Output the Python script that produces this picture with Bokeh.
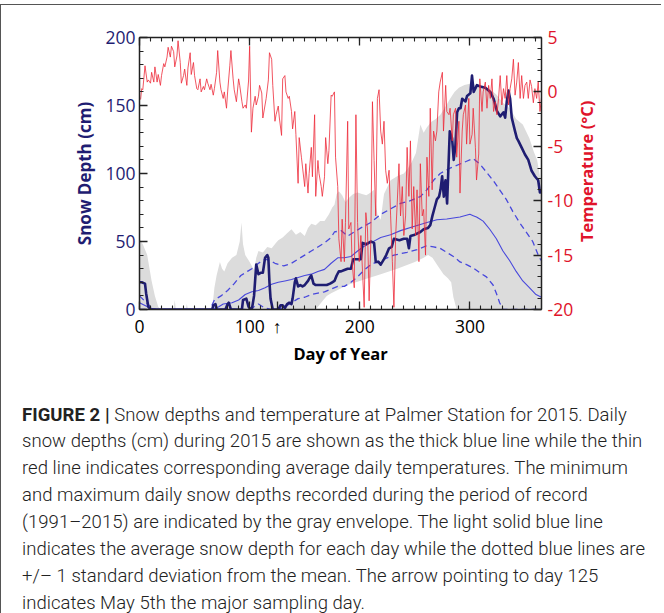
from math import pi
from bokeh.plotting import figure
from bokeh.models import (Range1d, LinearAxis, SingleIntervalTicker, FixedTicker, Div,
                          CustomJSTickFormatter)
from bokeh.layouts import column
from bokeh.embed import file_html
from bokeh.resources import INLINE

# ---------------- data ----------------
temp_day = [1, 2, 3, 5, 7, 8, 10, 11, 13, 14, 16, 17, 19, 20, 22, 23, 25, 26, 28, 29, 31, 32, 34, 35,
            37, 38, 40, 41, 43, 44, 46, 47, 49, 50, 52, 53, 55, 56, 58, 59, 61, 62, 64, 65, 67, 68, 70,
            71, 73, 74, 76, 77, 79, 80, 82, 83, 85, 86, 88, 90, 91, 93,
            94, 96, 97, 99, 100, 101.6, 103, 105, 106, 108, 109, 111, 112, 114, 115, 117, 118, 120,
            121, 123, 124, 126, 127, 129, 130, 132, 133, 135, 136, 138, 139, 141, 142, 144, 145, 147,
            148, 150, 151, 153, 154, 156, 157, 159, 160, 162, 163, 165, 166, 168, 169, 171, 172, 174,
            175, 177, 178, 180, 181, 183, 184,
            186, 187, 189, 190, 192, 193, 195, 196.5, 198, 199.5, 201, 202.5, 204, 205.5, 207, 208.5,
            210, 211.5, 213, 214.5, 216, 217.5, 219, 220.5, 222, 223.5, 225, 226.6, 228, 229.6, 231,
            232.6, 234, 235.6, 237, 238.6, 240, 241.6, 243, 244.6, 246, 247.6, 249, 250.7, 252, 253.7,
            255, 256.7, 258, 259.7, 261, 262.7, 264, 265.7, 267, 268.7, 270, 271.7, 273,
            275, 276, 278, 279, 281, 282, 284, 285, 287, 288, 290, 291, 293, 294, 296, 297, 299, 300,
            302, 303, 305, 306, 308, 309, 311, 312, 314, 315.5, 317, 318.5, 320, 321.5, 323, 324.5,
            326, 327.5, 329, 330.5, 332, 333.5, 335, 336.5, 338, 339.5, 341, 342.5, 344, 345.6, 347,
            348.6, 350, 351.6, 353, 354.6, 356, 357.6, 359, 360.6, 362, 363.6, 365]
temp_val = [-0.7, 0.3, 0.2, 2.4, 0.9, 1.1, 0.8, 1.8, 0.9, 2.3, 0.9, 1.6, 0.6, 1.5, 2.6, 2.3, 3.2, 4.1,
            3.2, 4.2, 3.7, 2.3, 3.3, 4.7, 2.7, 0.8, 1.5, 2.1, 0.6, 2.2, 3.6, 1.6, 2.7, 1.5, 0.3, 0.2,
            1.2, 0.0, 0.5, 0.2, 1.2, 0.8, 0.2, 0.7, -0.3, 0.3, 1.8, 3.8, 0.9, 0.2, -0.6, 0.0, -1.5,
            0.0, 2.4, 3.8, 1.2, 0.2, -0.9, 1.2, 0.6, -0.9,
            -1.5, -1.2, -1.5, 1.0, 4.2, -3.7, -1.5, -0.4, -1.2, -0.4, 0.6, -0.1, -2.4, -1.2, -0.6,
            1.1, 3.6, 3.0, 0.6, -2.7, -2.1, -1.3, -2.4, -4.0, 1.2, 1.5, 0.0, -0.6, -0.4, -1.8, -3.4,
            -1.8, -3.9, -8.4, -4.2, -6.0, -6.9, -8.7, -6.6, -9.3, -7.5, -5.1, -7.8, -2.1, -9.6, -6.3,
            -7.5, -8.7, -9.6, -7.8, -4.2, -6.6, -5.4, -0.3, -0.4, 0.0, -6.0, -8.7, -13.5, -15.6, -11.7,
            -15.6, -12.0, -2.7, -12.6, -12.0, -15.6, -18.0, -2.1, -12.0, -15.6, -13.2, -16.5, -19.8,
            -11.1, -12.6, -19.2, -13.8, -0.9, -6.3, -11.4, -0.6, 0.2, -3.6, -4.8, -2.7, -7.2, -8.4,
            -7.2, -11.4, -15.6, -19.8, -13.2, -10.2, -6.6, -11.4, -8.7, -13.2, -11.4, -5.1, -9.6,
            -4.5, -12.6, -8.7, -13.2, -9.0, -15.6, -6.6, -11.4, -10.8, -15.0, -6.0, -9.6, -1.5, -9.0,
            -3.6, -4.5, -3.6, 0.0, 0.9,
            1.8, -3.6, 0.6, -1.8, -2.1, -1.5, -4.5, -2.1, -1.5, -6.0, -2.7, -9.3, -3.6, -2.1, -1.2,
            -4.8, -0.6, -4.8, -3.9, -1.5, -5.1, -8.1, -5.7, 1.2, -1.8, 0.0, 0.9, -1.5, 0.6, -0.6, 1.2,
            -1.8, -0.9, -2.1, -0.6, 1.5, -1.2, 0.3, -0.6, 1.5, -1.2, 0.3, 1.2, 3.0, -0.3, 0.9, 2.7,
            -0.6, 1.5, -0.6, 0.6, 0.9, -0.6, 1.1, 0.5, -1.0, 0.3, -0.6, 0.9, -1.8, -0.5]

snow_day = [0, 2, 5, 6, 8, 10, 66, 67, 69, 70, 78, 80, 81, 83, 93, 94, 97, 99, 101, 102, 104, 106,
            108, 110, 112, 114, 116, 117, 118, 119, 121, 126, 128, 130, 132, 134, 136, 138, 139, 141,
            142, 144, 146, 148, 150, 153, 155, 156, 158, 160, 165, 170, 173, 175, 177, 179, 181, 183,
            186, 189, 192, 194, 196, 199, 201, 202.5, 206, 210, 213, 214.5, 217, 219, 222, 224, 226.6,
            229, 231, 236, 240, 243, 244.6, 246, 250, 255, 258, 262, 264, 266, 268, 270, 272, 273.3,
            274.8, 276.3, 277.8, 279.3, 281.7, 283.8, 285.3, 286.8, 288.4, 290, 291.5, 293, 296,
            297.4, 300.4, 301.9, 303.4, 306.4, 309.4, 314, 318.5, 321.5, 324.5, 327.5, 330.5, 332,
            333.5, 335, 336.5, 338, 341, 342.6, 344, 347, 350, 353, 356, 359, 362, 363.6, 365]
snow_val = [20, 20, 19, 12, 2, 0, 0, 3, 4, 0, 0, 4, 5, 0, 0, 7, 8, 2, 0, 0, 10, 33, 26, 27, 27, 38,
            40, 38, 20, 8, 0, 0, 3, 3, 1, 4, 5, 4, 8, 20, 23, 17, 18, 17, 18, 21, 24, 25, 19, 18, 18,
            18, 19, 20, 21, 25, 28, 28, 29, 30, 30, 37, 37, 37, 37, 49, 48, 50, 49, 35, 35, 33, 37,
            40, 45, 46, 52, 51, 52, 52, 45, 54, 55, 57, 59, 60, 62, 69, 75, 81, 83, 88, 98, 83, 95,
            78, 131, 126, 110, 120, 145, 148, 148, 155, 153, 157, 159, 172, 160, 165, 164, 163, 160,
            155, 146, 142, 145, 141, 153, 161, 155, 141, 131, 126, 124, 119, 114, 110, 102, 98, 95,
            86, 88]

mean_day = [0, 5, 10, 15, 66, 72, 76, 84, 90, 96, 102, 108, 114, 120, 126, 132, 138, 144, 150, 156,
            162, 168, 174, 180, 186, 192, 198, 204, 210, 219, 228, 237, 249, 261, 270, 279, 291, 300,
            303, 306, 309, 312, 318, 324, 330, 336, 342, 348, 354, 360, 365]
mean_val = [5, 3, 1, 0, 0, 2, 4, 5, 7, 11, 13, 14, 16, 18.5, 20, 21, 22, 23.5, 25, 26, 28, 29.5, 34,
            38, 38, 39, 43, 46.5, 49, 53, 55, 58, 61, 64, 66, 66.5, 68, 70, 69, 68, 66.5, 65, 59, 52,
            43, 36, 28, 21, 16, 11, 9]

sd_hi_day = [0, 5, 10, 15, 64, 68, 74, 80, 86, 92, 98, 102, 108, 114, 118, 123, 131, 138, 144, 150,
             156, 162, 168, 174, 177, 183, 189, 195, 201, 210, 219, 228, 237, 246, 255, 261, 267,
             273, 282, 291, 297, 303, 309, 315, 321, 327, 333, 339, 345, 351, 357, 363, 365]
sd_hi_val = [10, 6, 2, 0, 0, 7, 10, 14, 19, 25, 28, 30, 34, 37, 36, 34, 32, 34, 37, 40, 43, 46, 49,
             53, 57, 58, 54, 57, 60, 64, 70, 74, 78, 80, 83, 88, 95, 100, 104, 107, 109, 111, 107,
             101, 95, 88, 81, 72, 64, 57, 50, 38, 36]

sd_lo_day = [0, 100, 104, 108, 114, 120, 126, 132, 138, 144, 150, 156, 162, 168, 174, 180, 186, 192,
             198, 204, 210, 219, 231, 243, 252, 261, 267, 273, 279, 285, 291, 297, 303, 309, 315,
             321, 324, 327, 330, 365]
sd_lo_val = [0, 0, 2, 4, 1, 0, 0, 2, 5, 8, 9, 11, 12, 13, 15, 17, 17, 20, 24, 29, 33, 36, 40, 42,
             44, 47, 46, 45, 42, 39, 35, 33, 30.5, 27, 24, 18, 12, 5, 0, 0]

env_max_day = [0, 3, 7, 11, 14, 17, 19, 31, 32, 33, 42, 43, 44, 66, 68, 70, 73, 75, 77, 80, 84, 88,
               91, 92.6, 94, 96, 100, 104, 106, 108, 112, 116, 120, 124, 126, 130, 134, 138, 142,
               146, 150, 153, 156, 160, 164, 168, 172, 175, 177, 179, 181, 184, 187, 190, 194, 198,
               202, 206, 210, 213, 216, 219, 222, 228, 234, 240, 243, 247, 251, 255, 258, 261, 265,
               269, 273, 277, 282, 286, 290, 295, 300, 306, 312, 318, 324, 330, 336, 342, 348, 354,
               358, 361, 363.6, 365]
env_max_val = [52, 48, 40, 21, 10, 2, 0, 0, 7, 0, 0, 4, 0, 0, 16, 25, 35, 30, 28, 34, 38, 40, 50,
               64, 48, 40, 35, 29, 38, 43, 42, 46, 45, 49, 51, 53, 56, 59, 55, 57, 54, 60, 63, 62,
               65, 65, 70, 75, 77, 85, 87, 84, 79, 82, 85, 86, 85, 84, 86, 88, 70, 66, 85, 95, 98,
               100, 103, 108, 115, 136, 130, 134, 138, 140, 143, 148, 155, 160, 163, 165, 166, 165,
               164, 162, 158, 152, 148, 140, 136, 126, 116, 110, 98, 95]

env_min_day = [0, 160, 166, 170, 174, 189, 204, 219, 234, 250, 258, 262, 266, 270, 276, 280, 283,
               285, 288, 365]
env_min_val = [0, 0, 6, 10, 12, 18, 22, 26, 30, 35, 38, 40, 38, 33, 26, 23, 20, 9, 0, 0]

x_major_ticks = [0, 100, 200, 300]
x_minor_ticks = list(range(0, 366, 10))
sampling_day = 125

caption_lines = [
    "Snow depths and temperature at Palmer Station for 2015. Daily",
    "snow depths (cm) during 2015 are shown as the thick blue line while the thin",
    "red line indicates corresponding average daily temperatures. The minimum",
    "and maximum daily snow depths recorded during the period of record",
    "(1991–2015) are indicated by the gray envelope. The light solid blue line",
    "indicates the average snow depth for each day while the dotted blue lines are",
    "+/– 1 standard deviation from the mean. The arrow pointing to day 125",
    "indicates May 5th the major sampling day.",
]

NAVY = "#1f1d72"
RED = "#e0142b"
BLUE = "#4848dc"
FONT = "Open Sans"

# ---------------- figure ----------------
p = figure(width=650, height=362, x_range=Range1d(0, 365), y_range=Range1d(0, 200),
           output_backend="svg", toolbar_location=None,
           min_border_left=138, min_border_right=110, min_border_top=32, min_border_bottom=52)
p.xgrid.visible = False
p.ygrid.visible = False
p.outline_line_color = None
p.background_fill_color = "white"

def style_axis(ax):
    ax.axis_line_color = "#222222"
    ax.axis_line_width = 1.5
    ax.major_tick_in = 8
    ax.major_tick_out = 0
    ax.minor_tick_in = 4
    ax.minor_tick_out = 0
    ax.major_tick_line_color = "#222222"
    ax.minor_tick_line_color = "#222222"
    ax.major_tick_line_width = 1.3
    ax.minor_tick_line_width = 1.1
    ax.major_label_text_font = FONT
    ax.major_label_text_font_size = "17.5px"
    ax.axis_label_text_font = FONT
    ax.axis_label_text_font_style = "bold"
    ax.axis_label_text_font_size = "16.5px"

# bottom axis (the arrow marks the sampling day)
xa = p.xaxis[0]
xa.ticker = FixedTicker(ticks=x_major_ticks + [sampling_day], minor_ticks=x_minor_ticks)
xa.major_label_overrides = {sampling_day: "↑"}
style_axis(xa)
xa.major_label_text_color = "black"
xa.major_label_standoff = 4
xa.axis_label = "Day of Year"
xa.axis_label_text_color = "black"
xa.axis_label_standoff = 1

# left axis
ya = p.yaxis[0]
ya.ticker = SingleIntervalTicker(interval=50, num_minor_ticks=5)
style_axis(ya)
ya.major_label_text_color = NAVY
ya.major_label_standoff = 4
ya.axis_label = "Snow Depth (cm)"
ya.axis_label_text_color = NAVY
ya.axis_label_text_font_size = "17px"
ya.axis_label_standoff = 6

# top axis (ticks only)
top = LinearAxis(ticker=FixedTicker(ticks=x_major_ticks, minor_ticks=x_minor_ticks),
                 formatter=CustomJSTickFormatter(code="return ''"))
style_axis(top)
p.add_layout(top, "above")

# right axis (temperature)
p.extra_y_ranges = {"temp": Range1d(-20, 5)}
ra = LinearAxis(y_range_name="temp", ticker=SingleIntervalTicker(interval=5, num_minor_ticks=5),
                formatter=CustomJSTickFormatter(code="return tick.toString()"))
style_axis(ra)
ra.major_label_text_color = RED
ra.major_label_standoff = 6
p.add_layout(ra, "right")

# right-hand title, written bottom-to-top (drawn as the single label of a bare axis)
title_anchor = -13.8
rt = LinearAxis(y_range_name="temp", ticker=FixedTicker(ticks=[title_anchor], minor_ticks=[]),
                major_label_overrides={title_anchor: "Temperature (°C)"},
                major_label_orientation=pi / 2)
rt.axis_line_color = None
rt.major_tick_line_color = None
rt.minor_tick_line_color = None
rt.major_tick_in = 0
rt.major_tick_out = 0
rt.major_label_standoff = 10
rt.major_label_text_font = FONT
rt.major_label_text_font_style = "bold"
rt.major_label_text_font_size = "16.5px"
rt.major_label_text_color = RED
p.add_layout(rt, "right")

# ---------------- glyphs ----------------
p.patch(env_max_day + env_min_day[::-1], env_max_val + env_min_val[::-1],
        fill_color="#dcdcdc", line_color=None)
p.line(sd_hi_day, sd_hi_val, line_color=BLUE, line_width=1.3, line_dash="6 4")
p.line(sd_lo_day, sd_lo_val, line_color=BLUE, line_width=1.3, line_dash="6 4")
p.line(mean_day, mean_val, line_color=BLUE, line_width=1.1)
p.line(snow_day, snow_val, line_color=NAVY, line_width=2.6, line_join="round")
p.line(temp_day, temp_val, y_range_name="temp", line_color="#ee2a3a", line_alpha=0.8,
       line_width=1.0)

line_divs = []
for i, ln in enumerate(caption_lines):
    if i == 0:
        ln = '<span style="font-weight:700;">FIGURE 2 |</span> ' + ln
    line_divs.append('<div style="height:26.9px; line-height:20px;">' + ln + '</div>')
caption_html = (
    '<div style="padding:32.5px 0 0 16px; font-family:Roboto; font-weight:300; font-size:18.5px; '
    'color:#222; white-space:nowrap; letter-spacing:0.05px;">' + "".join(line_divs) + '</div>'
)
cap = Div(text=caption_html, width=650, height=240)

layout = column(p, cap, styles={"border-top": "1px solid #555", "border-left": "1px solid #555",
                                "margin-top": "4px"})

open("out.html", "w").write(file_html(layout, INLINE))
